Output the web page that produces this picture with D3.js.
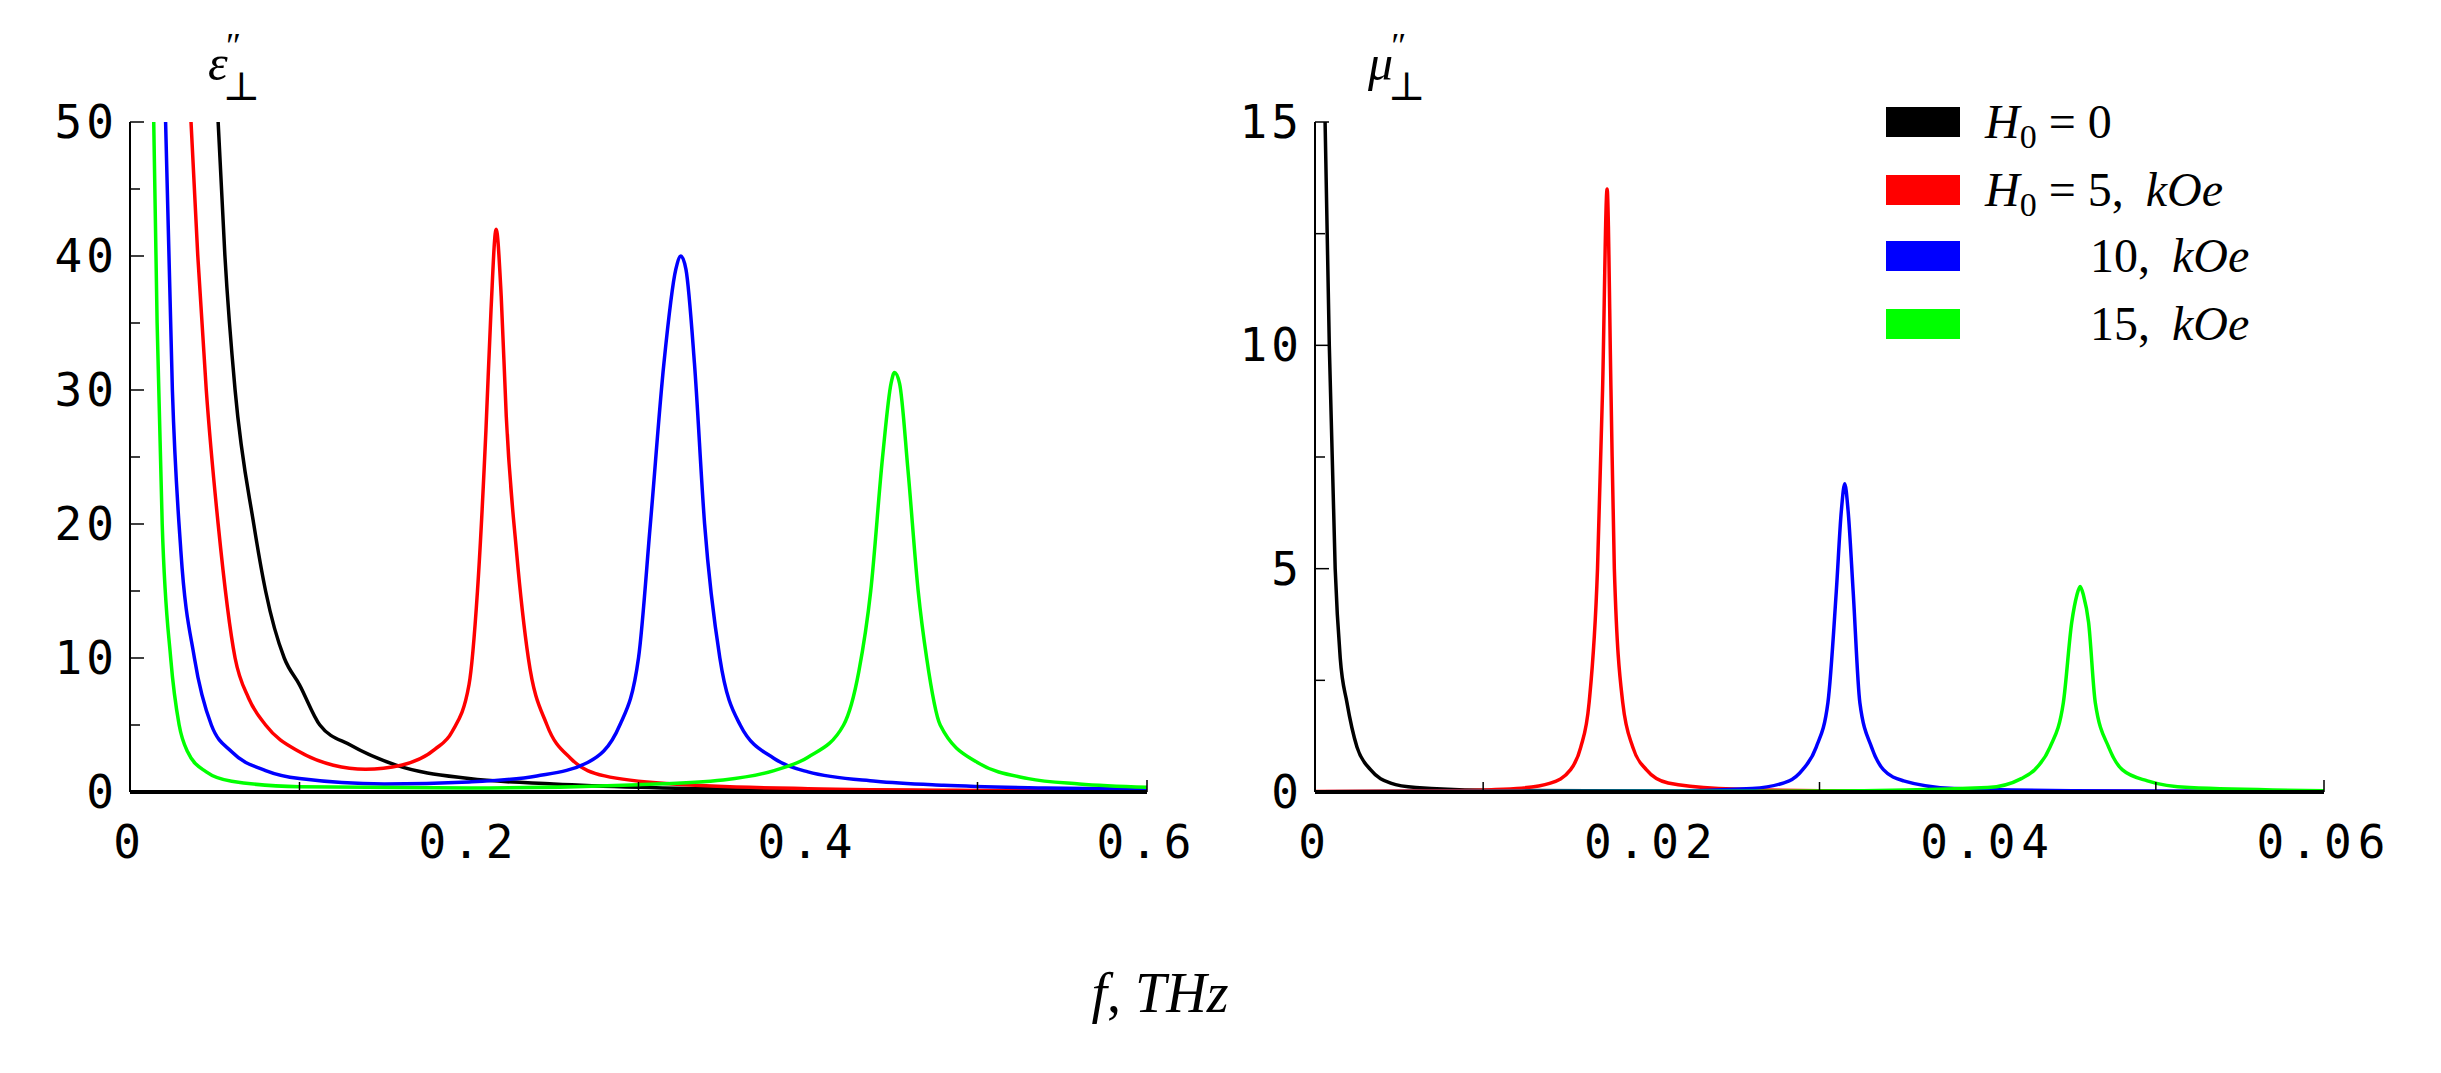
<!DOCTYPE html>
<html><head><meta charset="utf-8">
<script src="https://cdn.jsdelivr.net/npm/d3@7"></script>
<style>body{margin:0;background:#fff}</style></head>
<body><svg id="c" width="2441" height="1073"></svg>
<script>
const epsBlack=[[0.052,50],[0.056,40],[0.062,30],[0.073,20],[0.08,15],[0.091,10],[0.1,8],[0.112,5],[0.13,3.5],[0.157,2],[0.2,1],[0.25,0.6],[0.3,0.35],[0.4,0.15],[0.5,0.08],[0.6,0.05]];
const epsRed=[[0.036,50],[0.04,40],[0.045,30],[0.052,20],[0.062,10],[0.07,7],[0.08,5],[0.1,3],[0.12,2],[0.139,1.7],[0.16,2],[0.18,3.2],[0.19,4.5],[0.2,8],[0.205,15],[0.21,27],[0.213,36],[0.216,42],[0.219,37],[0.222,28],[0.228,18],[0.235,10],[0.246,5],[0.26,2.5],[0.28,1.2],[0.32,0.6],[0.4,0.25],[0.5,0.12],[0.6,0.08]];
const epsBlue=[[0.021,50],[0.025,30],[0.03,18],[0.038,10],[0.048,5],[0.06,3],[0.08,1.6],[0.1,1],[0.15,0.6],[0.2,0.75],[0.24,1.2],[0.27,2.2],[0.289,5],[0.3,10],[0.307,20],[0.315,32],[0.322,39],[0.325,40],[0.328,39],[0.333,32],[0.339,20],[0.348,10],[0.36,5],[0.38,2.5],[0.4,1.5],[0.44,0.8],[0.48,0.5],[0.54,0.3],[0.6,0.2]];
const epsGreen=[[0.014,50],[0.016,35],[0.019,20],[0.024,10],[0.029,5],[0.034,3],[0.045,1.5],[0.06,0.8],[0.1,0.4],[0.2,0.3],[0.3,0.55],[0.35,0.9],[0.38,1.6],[0.4,2.6],[0.421,5],[0.43,9],[0.437,15],[0.444,25],[0.449,30.5],[0.451,31.3],[0.454,30.5],[0.459,24],[0.465,15],[0.47,10],[0.478,5],[0.5,2.2],[0.53,1],[0.56,0.6],[0.6,0.35]];
const muBlack=[[0.0006,15],[0.00085,10],[0.0012,5],[0.0015,3],[0.0019,2],[0.0025,1],[0.0033,0.5],[0.0045,0.2],[0.006,0.1],[0.01,0.04],[0.03,0.01],[0.06,0.005]];
const muRed=[[0,0.01],[0.008,0.03],[0.012,0.08],[0.014,0.2],[0.0152,0.5],[0.0158,1],[0.0163,2],[0.0168,5],[0.0171,9],[0.01737,13.5],[0.0176,9],[0.0178,5],[0.0183,2],[0.0189,1],[0.0197,0.5],[0.021,0.2],[0.024,0.08],[0.03,0.03],[0.06,0.01]];
const muBlue=[[0,0.005],[0.02,0.02],[0.026,0.08],[0.0282,0.25],[0.029,0.5],[0.0298,1],[0.0305,2],[0.031,4.5],[0.0313,6.3],[0.0315,6.9],[0.0317,6.3],[0.032,4.5],[0.0324,2],[0.0331,1],[0.0338,0.5],[0.035,0.25],[0.038,0.08],[0.045,0.03],[0.06,0.01]];
const muGreen=[[0,0.005],[0.03,0.02],[0.04,0.1],[0.042,0.3],[0.0428,0.5],[0.0437,1],[0.0445,2],[0.045,3.8],[0.0453,4.4],[0.0455,4.6],[0.0457,4.4],[0.046,3.8],[0.0464,2],[0.0472,1],[0.048,0.5],[0.0495,0.25],[0.052,0.1],[0.06,0.03]];
const colors=["#000000","#ff0000","#0000ff","#00ff00"];
const epsXTicks=[0,0.2,0.4,0.6], epsYTicks=[0,10,20,30,40,50];
const muXTicks=[0,0.02,0.04,0.06], muYTicks=[0,5,10,15];

const svg=d3.select("#c");
const tickFont='"DejaVu Sans Mono", monospace';
function panel(x0,x1,yTop,yBot,xd,yd,xt,yt,xminor,yminor,series,fmt){
  const x=d3.scaleLinear().domain(xd).range([x0,x1]);
  const y=d3.scaleLinear().domain(yd).range([yBot,yTop]);
  const id="clip"+x0;
  svg.append("clipPath").attr("id",id).append("rect").attr("x",x0).attr("y",yTop).attr("width",x1-x0+2).attr("height",yBot-yTop+2);
  const line=d3.line().x(d=>x(d[0])).y(d=>y(d[1])).curve(d3.curveMonotoneX);
  series.forEach((s,i)=>svg.append("path").attr("d",line(s)).attr("fill","none").attr("stroke",colors[i]).attr("stroke-width",3.5).attr("clip-path",`url(#${id})`));
  svg.append("line").attr("x1",x0).attr("x2",x1).attr("y1",yBot).attr("y2",yBot).attr("stroke","#000").attr("stroke-width",4);
  svg.append("line").attr("x1",x0).attr("x2",x0).attr("y1",yTop).attr("y2",yBot).attr("stroke","#000").attr("stroke-width",2);
  svg.append("line").attr("x1",x1).attr("x2",x1).attr("y1",yBot).attr("y2",yBot-12).attr("stroke","#000").attr("stroke-width",1.5);
  xminor.forEach(v=>svg.append("line").attr("x1",x(v)).attr("x2",x(v)).attr("y1",yBot).attr("y2",yBot-10).attr("stroke","#000").attr("stroke-width",1.5));
  yminor.forEach(v=>svg.append("line").attr("x1",x0).attr("x2",x0+10).attr("y1",y(v)).attr("y2",y(v)).attr("stroke","#000").attr("stroke-width",1.5));
  yt.forEach(v=>svg.append("line").attr("x1",x0).attr("x2",x0+14).attr("y1",y(v)).attr("y2",y(v)).attr("stroke","#000").attr("stroke-width",1.5));
  xt.forEach(v=>svg.append("text").attr("x",x(v)).attr("y",yBot+66).attr("text-anchor","middle").attr("font-family",tickFont).attr("font-size",46).attr("letter-spacing",6).text(fmt(v)));
  yt.forEach(v=>svg.append("text").attr("x",x0-12).attr("y",y(v)+16).attr("text-anchor","end").attr("font-family",tickFont).attr("font-size",46).attr("letter-spacing",4).text(v));
}
panel(130,1147,122,1062-270,[0,0.6],[0,50],epsXTicks,epsYTicks,[0.1,0.3,0.5],[5,15,25,35,45],[epsBlack,epsRed,epsBlue,epsGreen],v=>v===0?"0":v.toFixed(1));
panel(1315,2324,122,1062-270,[0,0.06],[0,15],muXTicks,muYTicks,[0.01,0.03,0.05],[2.5,7.5,12.5],[muBlack,muRed,muBlue,muGreen],v=>v===0?"0":v.toFixed(2));

const serif='"Liberation Serif", "DejaVu Serif", serif';
function ylab(xp,sym){
  const t=svg.append("text").attr("x",xp).attr("y",80).attr("font-family",serif).attr("font-size",50).attr("font-style","italic");
  t.append("tspan").text(sym);
  t.append("tspan").attr("dy",-22).attr("dx",-4).attr("font-size",36).text("″");
  t.append("tspan").attr("dy",42).attr("dx",-16).attr("font-size",40).attr("font-style","normal").text("⊥");
}
ylab(208,"ε"); ylab(1368,"μ");

const legY=[122,190,256,324];
const legText=[["H"," = 0",false],["H"," = 5, ",true],[null,"10, ",true],[null,"15, ",true]];
legY.forEach((yy,i)=>{
  svg.append("rect").attr("x",1886).attr("y",yy-15).attr("width",74).attr("height",30).attr("fill",colors[i]);
  const t=svg.append("text").attr("x",legText[i][0]?1985:2090).attr("y",yy+16).attr("font-family",serif).attr("font-size",48).attr("xml:space","preserve");
  if(legText[i][0]){t.append("tspan").attr("font-style","italic").text("H");t.append("tspan").attr("dy",10).attr("font-size",34).text("0");t.append("tspan").attr("dy",-10).text(legText[i][1]);}
  else t.append("tspan").text(legText[i][1]);
  if(legText[i][2]) t.append("tspan").attr("dx",10).attr("font-style","italic").text("kOe");
});

const xl=svg.append("text").attr("x",1160).attr("y",1012).attr("text-anchor","middle").attr("font-family",serif).attr("font-size",56);
xl.append("tspan").attr("font-style","italic").text("f");
xl.append("tspan").text(", ");
xl.append("tspan").attr("font-style","italic").text("THz");
</script></body></html>
